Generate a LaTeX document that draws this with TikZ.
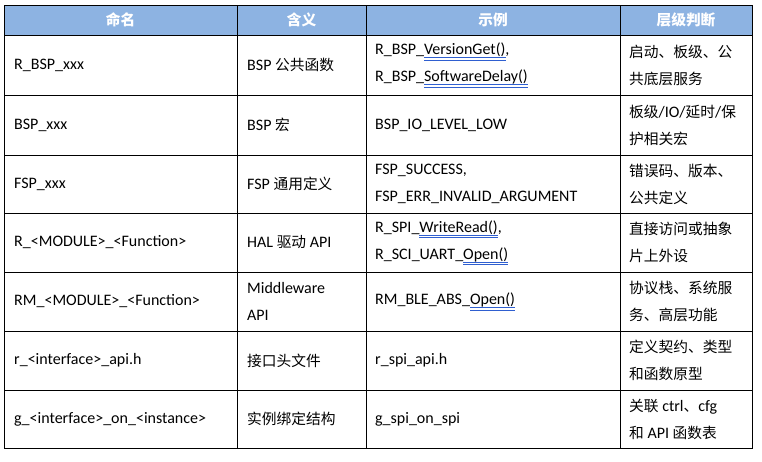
\documentclass[tikz,border=0pt]{standalone}
\usepackage{fontspec}
\setmainfont{Carlito}
\newfontfamily\cjk{Noto Sans CJK SC}[Scale=0.92]
\definecolor{headblue}{HTML}{8DB3E2}
\definecolor{ulblue}{HTML}{2F5FD0}
\newcommand\dblul[1]{\setbox0\hbox{#1}\rlap{\color{ulblue}\rule[-3pt]{\wd0}{0.6pt}\kern-\wd0\rule[-5.5pt]{\wd0}{0.6pt}}\box0}
\begin{document}
\begin{tikzpicture}[x=1pt,y=-1pt,
  cell/.style={anchor=west, align=left, inner sep=0pt, font=\fontsize{16}{27}\selectfont},
  head/.style={font=\fontsize{16}{20}\selectfont\cjk\bfseries, text=white, inner sep=0pt}]
\useasboundingbox (0,0) rectangle (762,461);
% header band
\fill[headblue] (4,5) rectangle (752,35);
\draw[line width=0.9pt] (4,5) rectangle (752,448);
\foreach \y in {35,95,155,213,272,331,390}
  \draw[line width=0.8pt] (4,\y) -- (752,\y);
\foreach \x in {237,366,620}
  \draw[line width=0.8pt] (\x,5) -- (\x,448);

\node[head] (h1) at (120.5,20) {命名};
\node[head] (h2) at (301.5,20) {含义};
\node[head] (h3) at (493,20) {示例};
\node[head] (h4) at (686,20) {层级判断};

% rows
\node[cell] (n1) at (14,65) {R\_BSP\_xxx};
\node[cell] (m1) at (247,65) {BSP {\cjk 公共函数}};
\node[cell] (e1) at (375,65) {R\_BSP\_\dblul{VersionGet()}, \\ R\_BSP\_\dblul{SoftwareDelay()}};
\node[cell] (l1) at (629,65) {\cjk 启动、板级、公\\\cjk 共底层服务};

\node[cell] (n2) at (14,125) {BSP\_xxx};
\node[cell] (m2) at (247,125) {BSP {\cjk 宏}};
\node[cell] (e2) at (375,125) {BSP\_IO\_LEVEL\_LOW};
\node[cell] (l2) at (629,125) {{\cjk 板级}/IO/{\cjk 延时}/{\cjk 保}\\\cjk 护相关宏};

\node[cell] (n3) at (14,184) {FSP\_xxx};
\node[cell] (m3) at (247,184) {FSP {\cjk 通用定义}};
\node[cell] (e3) at (375,184) {FSP\_SUCCESS, \\ FSP\_ERR\_INVALID\_ARGUMENT};
\node[cell] (l3) at (629,184) {\cjk 错误码、版本、\\\cjk 公共定义};

\node[cell] (n4) at (14,242.5) {R\_<MODULE>\_<Function>};
\node[cell] (m4) at (247,242.5) {HAL {\cjk 驱动} API};
\node[cell] (e4) at (375,242.5) {R\_SPI\_\dblul{WriteRead()}, \\ R\_SCI\_UART\_\dblul{Open()}};
\node[cell] (l4) at (629,242.5) {\cjk 直接访问或抽象\\\cjk 片上外设};

\node[cell] (n5) at (14,301.5) {RM\_<MODULE>\_<Function>};
\node[cell] (m5) at (247,301.5) {Middleware \\ API};
\node[cell] (e5) at (375,301.5) {RM\_BLE\_ABS\_\dblul{Open()}};
\node[cell] (l5) at (629,301.5) {\cjk 协议栈、系统服\\\cjk 务、高层功能};

\node[cell] (n6) at (14,360.5) {r\_<interface>\_api.h};
\node[cell] (m6) at (247,360.5) {\cjk 接口头文件};
\node[cell] (e6) at (375,360.5) {r\_spi\_api.h};
\node[cell] (l6) at (629,360.5) {\cjk 定义契约、类型\\\cjk 和函数原型};

\node[cell] (n7) at (14,419) {g\_<interface>\_on\_<instance>};
\node[cell] (m7) at (247,419) {\cjk 实例绑定结构};
\node[cell] (e7) at (375,419) {g\_spi\_on\_spi};
\node[cell] (l7) at (629,419) {{\cjk 关联} ctrl{\cjk 、}cfg \\ {\cjk 和} API {\cjk 函数表}};
\end{tikzpicture}
\end{document}
